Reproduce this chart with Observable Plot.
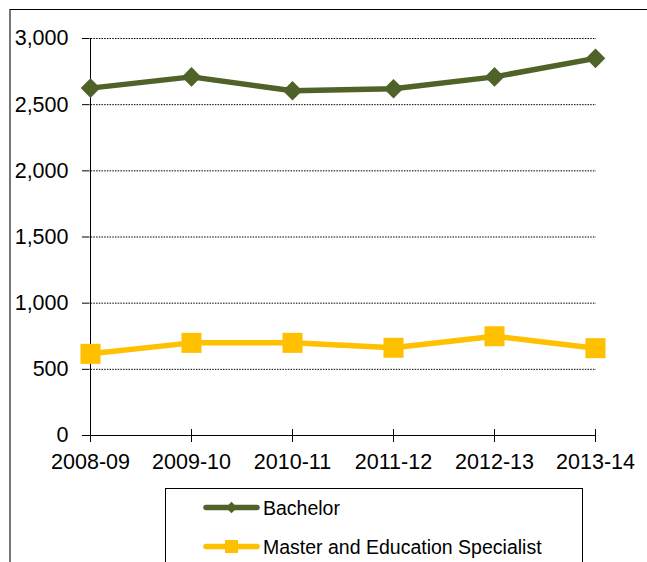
<!DOCTYPE html>
<html>
<head>
<meta charset="utf-8">
<script src="https://cdn.jsdelivr.net/npm/d3@7"></script>
<script src="https://cdn.jsdelivr.net/npm/@observablehq/plot@0.6"></script>
<style>
  html, body { margin: 0; padding: 0; background: #fff; }
  #wrap { position: relative; width: 647px; height: 562px; overflow: hidden; background: #fff;
          font-family: "Liberation Sans", Arial, sans-serif; color: #000; }
  #frame { position: absolute; left: 9px; top: 9px; width: 700px; height: 700px;
           border-top: 1.5px solid #000; border-left: 2px solid #777; }
  #chart { position: absolute; left: 0; top: 0; }
  #legend { position: absolute; left: 165px; top: 488px; width: 416px; height: 120px;
            border: 1px solid #000; background: #fff; }
  .entry { position: absolute; left: 37px; height: 24px; display: flex; align-items: center; }
  .entry span { font-size: 19.5px; margin-left: 2px; white-space: nowrap; }
</style>
</head>
<body>
<div id="wrap">
  <div id="frame"></div>
  <div id="chart"></div>
  <div id="legend"></div>
</div>
<script>
const categories = ["2008-09", "2009-10", "2010-11", "2011-12", "2012-13", "2013-14"];
const bachelor = [2625, 2710, 2605, 2620, 2710, 2850];
const master = [617, 700, 700, 663, 750, 660];
const seriesNames = ["Bachelor", "Master and Education Specialist"];
const seriesColors = ["#4F6228", "#FFC000"];
const yTicks = [0, 500, 1000, 1500, 2000, 2500, 3000];

const bData = categories.map((c, i) => ({year: c, value: bachelor[i], series: seriesNames[0]}));
const mData = categories.map((c, i) => ({year: c, value: master[i], series: seriesNames[1]}));

const chart = Plot.plot({
  width: 647,
  height: 562,
  marginLeft: 88,
  marginRight: 51,
  marginTop: 38,
  marginBottom: 127,
  x: {type: "point", domain: categories, padding: 0},
  y: {domain: [0, 3000]},
  style: {fontFamily: "'Liberation Sans', Arial, sans-serif", fontSize: "21.5px", color: "#000", background: "transparent", overflow: "visible"},
  marks: [
    Plot.ruleY(yTicks.filter(d => d > 0), {stroke: "#000", strokeWidth: 1, strokeDasharray: "1.5,1.2"}),
    Plot.axisY({ticks: yTicks, tickFormat: d3.format(","), tickSize: 6, tickPadding: 14, label: null, fontSize: 21.5}),
    Plot.axisX({tickSize: 13, dy: -6, tickPadding: 11, label: null, fontSize: 21.5}),
    Plot.ruleX([categories[0]], {y1: 0, y2: 3000, stroke: "#000"}),
    Plot.ruleY([0], {stroke: "#000"}),
    Plot.line(bData, {x: "year", y: "value", stroke: seriesColors[0], strokeWidth: 5.5}),
    Plot.dot(bData, {x: "year", y: "value", symbol: "square", r: 7.8, rotate: 45, fill: seriesColors[0]}),
    Plot.line(mData, {x: "year", y: "value", stroke: seriesColors[1], strokeWidth: 5.5}),
    Plot.dot(mData, {x: "year", y: "value", symbol: "square", r: 11.3, fill: seriesColors[1]})
  ]
});
document.getElementById("chart").appendChild(chart);

// legend
const legend = document.getElementById("legend");
const tops = [7, 46];
seriesNames.forEach((name, i) => {
  const e = document.createElement("div");
  e.className = "entry";
  e.style.top = tops[i] + "px";
  const marker = i === 0
    ? `<rect x="24.5" y="7.5" width="8" height="8" fill="${seriesColors[i]}" transform="rotate(45 28.5 11.5)"/>`
    : `<rect x="22" y="5" width="13" height="13" fill="${seriesColors[i]}"/>`;
  e.innerHTML = `<svg width="58" height="24"><line x1="3" y1="11.5" x2="54" y2="11.5" stroke="${seriesColors[i]}" stroke-width="5.5" stroke-linecap="round"/>${marker}</svg><span>${name}</span>`;
  legend.appendChild(e);
});
</script>
</body>
</html>
